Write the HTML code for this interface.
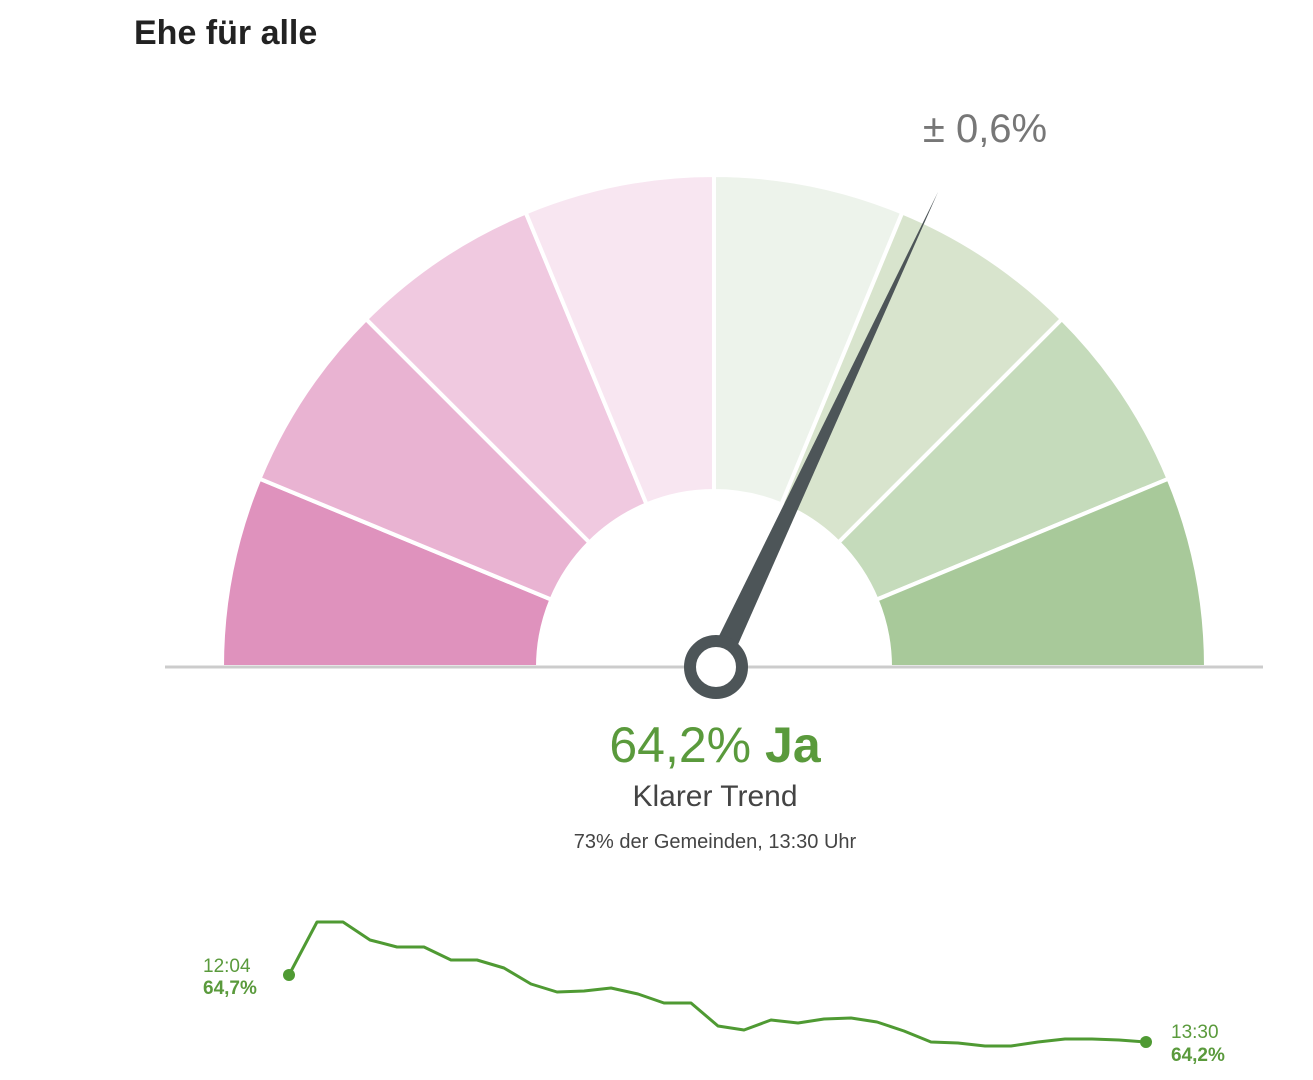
<!DOCTYPE html>
<html><head><meta charset="utf-8">
<style>
html,body{margin:0;padding:0;background:#fff;}
svg{display:block;}
text{font-family:"Liberation Sans",sans-serif;}
</style></head>
<body>
<svg id="s" width="1313" height="1080" viewBox="0 0 1313 1080" xmlns="http://www.w3.org/2000/svg">
<text x="134" y="44" font-size="34" font-weight="bold" fill="#222">Ehe für alle</text>
<g id="segs"></g>
<line x1="165" y1="667" x2="1263" y2="667" stroke="#cccccc" stroke-width="3"/>
<polygon id="needle" fill="#4d5558"/>
<circle cx="716" cy="667" r="26" fill="#fff" stroke="#4d5558" stroke-width="12"/>
<text x="985" y="142" font-size="40" fill="#777" text-anchor="middle">± 0,6%</text>
<text x="715" y="762" font-size="50" fill="#5a9a3c" text-anchor="middle">64,2% <tspan font-weight="bold">Ja</tspan></text>
<text x="715" y="806" font-size="30" fill="#444" text-anchor="middle">Klarer Trend</text>
<text x="715" y="848" font-size="20" fill="#444" text-anchor="middle">73% der Gemeinden, 13:30 Uhr</text>
<polyline fill="none" stroke="#4f9a33" stroke-width="3" stroke-linejoin="round" points="289,975 317,922 343,922 370,940 397,947 424,947 451,960 477,960 504,968 531,984 557,992 584,991 611,988 638,994 664,1003 691,1003 718,1026 744,1030 771,1020 798,1023 824,1019 851,1018 877,1022 904,1031 931,1042 958,1043 985,1046 1011,1046 1038,1042 1065,1039 1092,1039 1119,1040 1146,1042"/>
<circle cx="289" cy="975" r="6" fill="#4f9a33"/>
<circle cx="1146" cy="1042" r="6" fill="#4f9a33"/>
<text x="203" y="972" font-size="19" fill="#5a9a3c">12:04</text>
<text x="203" y="994" font-size="19" font-weight="bold" fill="#5a9a3c">64,7%</text>
<text x="1171" y="1038" font-size="19" fill="#5a9a3c">13:30</text>
<text x="1171" y="1061" font-size="19" font-weight="bold" fill="#5a9a3c">64,2%</text>
</svg>
<script>
var cx=714,cy=667,R=492,r=176;
var cols=["#df92bd","#e9b3d2","#f0c9e0","#f8e6f1","#edf3eb","#d8e4cd","#c5dbbb","#a8c99a"];
var g=document.getElementById("segs"),h="";
function p(rad,a){return [(cx+rad*Math.cos(a)).toFixed(1),(cy-rad*Math.sin(a)).toFixed(1)];}
for(var i=0;i<8;i++){
 var a0=Math.PI-i*Math.PI/8,a1=Math.PI-(i+1)*Math.PI/8;
 var A=p(R,a0),B=p(R,a1),C=p(r,a1),D=p(r,a0);
 h+='<path d="M'+A+' A'+R+','+R+' 0 0 1 '+B+' L'+C+' A'+r+','+r+' 0 0 0 '+D+' Z" fill="'+cols[i]+'" stroke="#fff" stroke-width="4"/>';
}
g.innerHTML=h;
var nx=938,ny=192,bx=716,by=667;
var dx=nx-bx,dy=ny-by,L=Math.sqrt(dx*dx+dy*dy),px=-dy/L*11,py=dx/L*11;
document.getElementById("needle").setAttribute("points",(bx+px)+","+(by+py)+" "+(bx-px)+","+(by-py)+" "+nx+","+ny);
</script>
</body></html>
